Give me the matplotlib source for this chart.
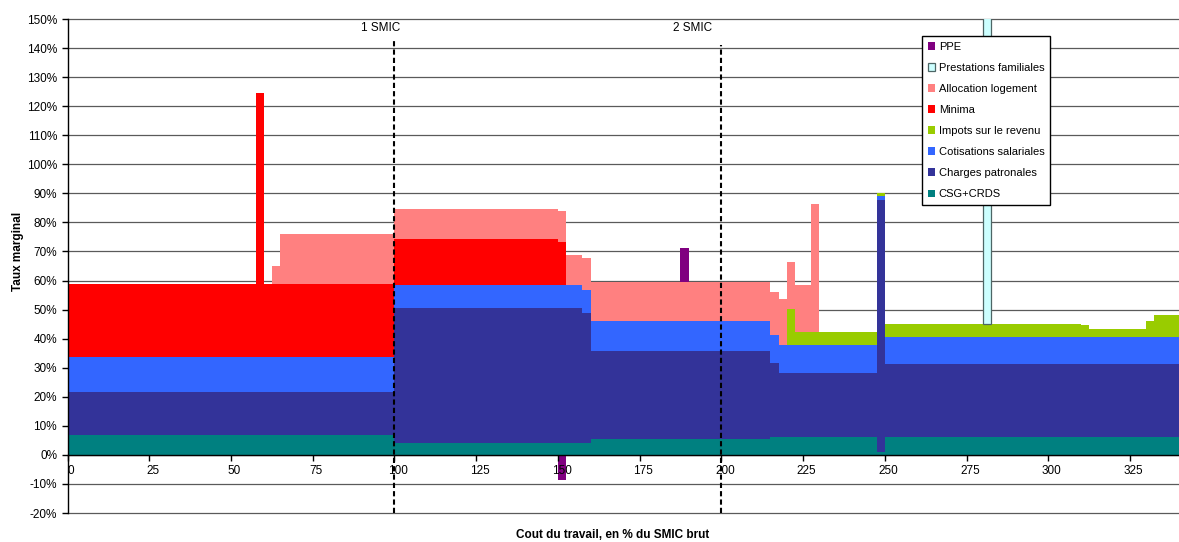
import numpy as np
import matplotlib
matplotlib.use("Agg")
import matplotlib.pyplot as plt

plt.rcParams['font.family'] = ['Liberation Sans', 'DejaVu Sans']

# ----- Data -----
# bornes des segments (en % du SMIC brut) ; chaque segment regroupe des colonnes de 2.5
bornes = [0, 57.5, 60, 62.5, 65, 100, 150, 152.5, 157.5, 160, 187.5, 190, 215,
          217.5, 220, 222.5, 227.5, 230, 247.5, 250, 280, 282.5, 310, 312.5,
          330, 332.5, 340]

# taux marginal par composante (en points de %), un chiffre par segment
csg_crds = [6.7, 6.7, 6.7, 6.7, 6.7, 4.2, 4.2, 4.2, 4.2, 5.5, 5.5, 5.5, 6.0,
            6.0, 6.0, 6.0, 6.0, 6.0, 1.1, 6.0, 6.0, 6.0, 6.0, 6.0, 6.0, 6.0]
charges_patronales = [15.1, 15.1, 15.1, 15.1, 15.1, 46.5, 46.5, 46.5, 44.8, 30.4, 30.4, 30.4, 25.6,
                      22.1, 22.1, 22.1, 22.1, 22.1, 86.6, 25.3, 25.3, 25.3, 25.3, 25.3, 25.3, 25.3]
cotisations_salariales = [11.8, 11.8, 11.8, 11.8, 11.8, 7.8, 7.8, 7.8, 7.8, 10.1, 10.1, 10.1, 9.7,
                          9.8, 9.8, 9.8, 9.8, 9.8, 1.5, 9.2, 9.2, 9.2, 9.2, 9.2, 9.2, 9.2]
impots_revenu = [0, 0, 0, 0, 0, 0, 0, 0, 0, 0, 0, 0, 0,
                 0, 12.3, 4.5, 4.5, 4.5, 0.8, 4.6, 4.6, 4.6, 4.1, 2.9, 5.7, 7.6]
minima = [25.2, 91.0, 25.2, 25.2, 25.2, 15.7, 14.9, 0, 0, 0, 0, 0, 0,
          0, 0, 0, 0, 0, 0, 0, 0, 0, 0, 0, 0, 0]
allocation_logement = [0, 0, 0, 6.2, 17.1, 10.5, 10.7, 10.3, 10.9, 13.6, 13.6, 13.6, 14.9,
                       15.7, 16.1, 15.9, 43.9, 0, 0, 0, 0, 0, 0, 0, 0, 0]
prestations_familiales = [0, 0, 0, 0, 0, 0, 0, 0, 0, 0, 0, 0, 0,
                          0, 0, 0, 0, 0, 0, 0, 110.0, 0, 0, 0, 0, 0]
ppe = [0, 0, 0, 0, 0, 0, -8.6, 0, 0, 0, 11.5, 0, 0,
       0, 0, 0, 0, 0, 0, 0, 0, 0, 0, 0, 0, 0]

series = [
    ("CSG+CRDS", csg_crds, "#008080", None),
    ("Charges patronales", charges_patronales, "#333399", None),
    ("Cotisations salariales", cotisations_salariales, "#3366FF", None),
    ("Impots sur le revenu", impots_revenu, "#99CC00", None),
    ("Minima", minima, "#FF0000", None),
    ("Allocation logement", allocation_logement, "#FF8080", None),
    ("Prestations familiales", prestations_familiales, "#CCFFFF", "#4D6666"),
    ("PPE", ppe, "#800080", None),
]

# ----- Figure -----
fig = plt.figure(figsize=(11.79, 5.42), dpi=100)
ax = fig.add_axes([0.0573, 0.0535, 0.9427, 0.9114])

# grille dessinee a la main, sous les barres
for yg in range(-20, 151, 10):
    ax.axhline(yg, color='#5a5a5a', lw=0.9, zorder=0.5, clip_on=False)

x0 = np.array(bornes[:-1], dtype=float)
larg = np.diff(bornes)
pos = np.zeros(len(x0))
neg = np.zeros(len(x0))
handles = []
for nom, vals, coul, bord in series:
    v = np.array(vals, dtype=float)
    base = np.where(v >= 0, pos, neg)
    m = v != 0
    if bord is None:
        bc = ax.bar(x0[m], v[m], width=larg[m], bottom=base[m], align='edge',
                    color=coul, linewidth=0, antialiased=False, label=nom, zorder=1)
    else:
        bc = ax.bar(x0[m], v[m], width=larg[m], bottom=base[m], align='edge',
                    color=coul, edgecolor=bord, linewidth=0.9, label=nom, zorder=1)
    handles.append(bc)
    pos = pos + np.clip(v, 0, None)
    neg = neg + np.clip(v, None, 0)

# lignes SMIC
ax.plot([100, 100], [-20, 142.7], color='black', lw=1.5, ls=(0, (2.5, 1.5)), zorder=3)
ax.plot([200, 200], [-20, 141.1], color='black', lw=1.5, ls=(0, (2.5, 1.5)), zorder=3)
ax.text(95.9, 146.8, "1 SMIC", ha='center', va='center', fontsize=8.5)
ax.text(191.3, 146.8, "2 SMIC", ha='center', va='center', fontsize=8.5)

# axes
ax.set_xlim(0, 340)
ax.set_ylim(-20, 150)
ax.set_yticks(np.arange(-20, 151, 10))
ax.set_yticklabels([f"{t}%" for t in range(-20, 151, 10)])
xt = np.arange(0, 326, 25)
ax.set_xticks(xt)
ax.set_xticklabels([])
ax.set_xticks(xt + 1.1, minor=True)
ax.set_xticklabels([str(t) for t in xt], minor=True)
ax.tick_params(axis='both', which='major', labelsize=8.5, direction='out', length=4,
               width=1, color='black')
ax.tick_params(axis='x', which='minor', labelsize=8.5, length=0, pad=7.5)

ax.spines['bottom'].set_position(('data', 0))
ax.spines['top'].set_visible(False)
ax.spines['right'].set_visible(False)
for s in ('bottom', 'left'):
    ax.spines[s].set_color('black')
    ax.spines[s].set_linewidth(1)

ax.set_ylabel("Taux marginal", fontsize=8.5, fontweight='bold')
ax.yaxis.set_label_coords(-0.039, 0.53)
fig.text(613 / 1179, 1 - 535 / 542, "Cout du travail, en % du SMIC brut",
         ha='center', va='center', fontsize=8.5, fontweight='bold')

leg = ax.legend(handles[::-1], [s[0] for s in series][::-1],
                loc='upper left', bbox_to_anchor=(0.7688, 0.9656), borderaxespad=0,
                fontsize=8, frameon=True, fancybox=False, handlelength=0.7,
                handleheight=0.7, handletextpad=0.3, labelspacing=1.0,
                borderpad=0.5)
leg.get_frame().set_edgecolor('black')
leg.get_frame().set_linewidth(1)
leg.get_frame().set_alpha(1)
leg.set_zorder(10)

fig.savefig("out.png", dpi=100)
